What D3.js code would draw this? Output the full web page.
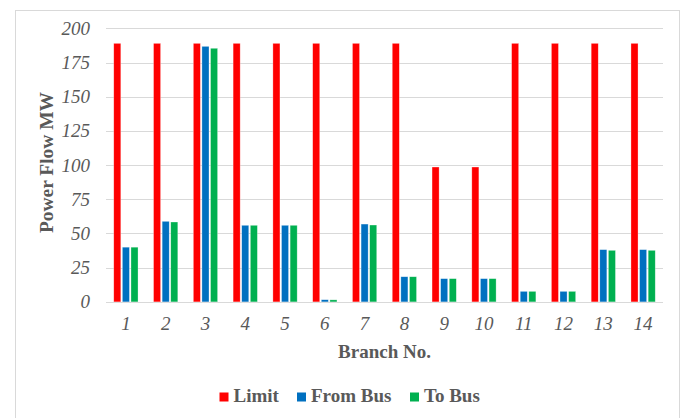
<!DOCTYPE html>
<html><head><meta charset="utf-8">
<script src="https://cdn.jsdelivr.net/npm/d3@7"></script>
<style>body{margin:0;background:#fff}svg{display:block}</style>
</head><body>
<svg id="c" width="683" height="418"></svg>
<script>
const categories = ["1","2","3","4","5","6","7","8","9","10","11","12","13","14"];
const seriesNames = ["Limit","From Bus","To Bus"];
const limitValues = [189,189,189,189,189,189,189,189,98.6,98.6,189,189,189,189];
const fromBusValues = [40,58.9,186.8,56,56,1.6,56.9,18.4,17,17,7.7,7.7,38.2,38.2];
const toBusValues = [40,58.4,185.4,56,56,1.5,56.2,18.4,17,17,7.7,7.7,37.7,37.7];
const yTicks = [0,25,50,75,100,125,150,175,200];
const colors = ["#FF0000","#0070C0","#00B050"];

const svg = d3.select("#c");
const W = 683, H = 418;
const m = {left:106, right:20, top:28.3, bottom:116.1};
const x0 = d3.scaleBand().domain(categories).range([m.left, W - m.right]).paddingInner(0.39).paddingOuter(0.195);
const x1 = d3.scaleBand().domain(seriesNames).range([0, x0.bandwidth()]).paddingInner(0.18);
const y = d3.scaleLinear().domain([0,200]).range([H - m.bottom, m.top]);
const FONT = "'Liberation Serif', 'Times New Roman', serif";
const GRAY = "#595959";

// outer frame
svg.append("rect").attr("x",15.5).attr("y",10.5).attr("width",664).attr("height",420)
  .attr("fill","none").attr("stroke","#d9d9d9").attr("stroke-width",1);

// gridlines
svg.append("g").selectAll("line").data(yTicks).join("line")
  .attr("x1", m.left).attr("x2", W - m.right)
  .attr("y1", d => Math.round(y(d)) + 0.5).attr("y2", d => Math.round(y(d)) + 0.5)
  .attr("stroke","#d9d9d9").attr("stroke-width",1);

// y axis labels
const yAxis = d3.axisLeft(y).tickValues(yTicks).tickSize(0).tickPadding(0);
const gy = svg.append("g").attr("transform",`translate(${m.left-16},0)`).call(yAxis);
gy.select(".domain").remove();
gy.selectAll("text").attr("font-family",FONT).attr("font-style","italic")
  .attr("font-size",19).attr("fill",GRAY);

// x axis labels
const xAxis = d3.axisBottom(x0).tickSize(0).tickPadding(0);
const gx = svg.append("g").attr("transform",`translate(0,${H - m.bottom + 14.6})`).call(xAxis);
gx.select(".domain").remove();
gx.selectAll("text").attr("font-family",FONT).attr("font-style","italic")
  .attr("font-size",19).attr("fill",GRAY);

// bars
const series = [limitValues, fromBusValues, toBusValues];
const data = [];
categories.forEach((c,i) => seriesNames.forEach((s,j) => data.push({c, s, v: series[j][i], j})));
svg.append("g").selectAll("rect").data(data).join("rect")
  .attr("x", d => x0(d.c) + x1(d.s))
  .attr("width", x1.bandwidth())
  .attr("y", d => y(d.v))
  .attr("height", d => y(0) - y(d.v))
  .attr("fill", d => colors[d.j])
  .attr("stroke","#ffffff").attr("stroke-opacity",0.5).attr("stroke-width",0.6);

// axis titles
svg.append("text").attr("x",(m.left + W - m.right)/2).attr("y",358)
  .attr("text-anchor","middle").attr("font-family",FONT)
  .attr("font-weight","bold").attr("font-size",19).attr("fill",GRAY).text("Branch No.");
svg.append("text").attr("transform",`translate(52.5,162.5) rotate(-90)`)
  .attr("text-anchor","middle").attr("font-family",FONT)
  .attr("font-weight","bold").attr("font-size",19.5).attr("fill",GRAY)
  .attr("textLength",141).attr("lengthAdjust","spacingAndGlyphs").text("Power Flow MW");

// legend
const legendX = [219.5, 297, 410];
const lg = svg.append("g").selectAll("g").data(seriesNames).join("g")
  .attr("transform",(d,i)=>`translate(${legendX[i]},402)`);
lg.append("rect").attr("x",0).attr("y",-9.5).attr("width",9).attr("height",9).attr("fill",(d,i)=>colors[i]);
lg.append("text").attr("x",14).attr("y",0).attr("font-family",FONT)
  .attr("font-weight","bold").attr("font-size",19).attr("fill",GRAY).text(d=>d);
</script>
</body></html>
